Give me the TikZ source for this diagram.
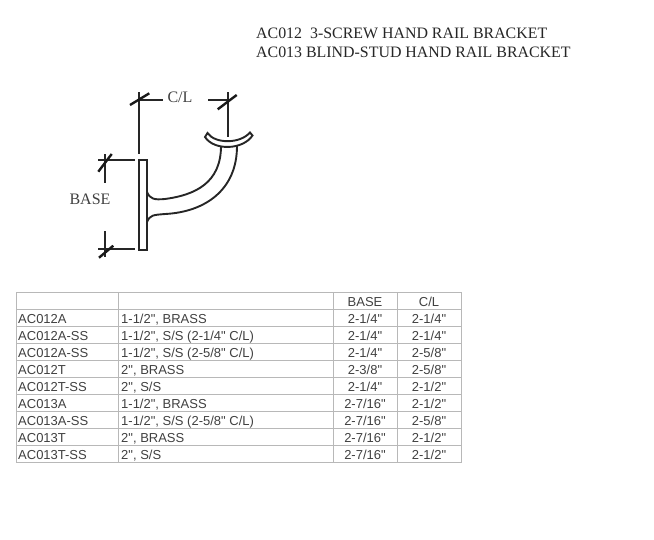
\documentclass[tikz,border=0pt]{standalone}
\usepackage{fontspec}
\setmainfont{Liberation Serif}
\newfontfamily\tablefont{Liberation Sans}
\tikzset{
	dimline/.style={line width=1.7pt,black!85},
	tickline/.style={line width=2.4pt,black!90},
	partline/.style={line width=1.9pt,black!85},
	gridline/.style={line width=0.9pt,black!28},
	celltext/.style={font=\tablefont\fontsize{13}{14}\selectfont,text=black!75,inner sep=0pt,anchor=base},
	titletext/.style={font=\fontsize{15.9}{17}\selectfont,text=black!85,inner sep=0pt,anchor=west},
	dimtext/.style={font=\fontsize{16}{17}\selectfont,text=black!75,inner sep=0pt}
}
\begin{document}
\begin{tikzpicture}[x=1pt,y=-1pt]
	\useasboundingbox (0,0) rectangle (654,539);
	\node[titletext] (title1) at (256,33) {AC012\ \ 3-SCREW HAND RAIL BRACKET};
	\node[titletext] (title2) at (256,52) {AC013 BLIND-STUD HAND RAIL BRACKET};
	% bracket
	\draw[partline] (138.7,160) rectangle (146.7,250);
	\draw[partline] (147,192) .. controls (150,199) and (154,200) .. (165,199) .. controls (195,195) and (221,183) .. (221,146);
	\draw[partline] (147,222) .. controls (150,215) and (153,215) .. (165,214) .. controls (205,212) and (237,190) .. (237,146);
	\draw[partline,fill=white] (207.5,133) .. controls (215,144) and (240,144) .. (250,132.5) -- (252.5,135.5)
		.. controls (243,150) and (214,151) .. (205,137) -- cycle;
	% dimensions
	\coordinate (CLa) at (138.7,100); \coordinate (CLb) at (162.7,100);
	\coordinate (CLc) at (208.3,100); \coordinate (CLd) at (228.3,100);
	\node[dimtext] (CL) at (180,97) {C/L};
	\node[dimtext] (BASE) at (90,199) {BASE};
	\draw[dimline] (138.7,92)--(138.7,154);
	\draw[dimline] (CLa)--(CLb);
	\draw[dimline] (CLc)--(CLd);
	\draw[dimline,line width=2.2pt] (228.3,92)--(228.3,137);
	\draw[dimline] (98,160)--(134.7,160) (105,154)--(105,183);
	\draw[dimline] (98,249)--(134.7,249) (105,231)--(105,257);
	\draw[tickline] (130,105)--(149.3,93.3);
	\draw[tickline] (217.7,109.3)--(236.7,95);
	\draw[tickline] (98.3,171.7)--(111.7,154);
	\draw[tickline] (99,257.7)--(113.3,245.7);
	% table
	\draw[gridline] (16,292) rectangle (461,462.3);
	\foreach \yy in {309,326,343.5,360.5,377.5,394.5,411.5,428.5,445.5}
		\draw[gridline] (16,\yy)--(461,\yy);
	\foreach \xx in {118,333,397}
		\draw[gridline] (\xx,292)--(\xx,462.3);
	\node[celltext] (hbase) at (365,306) {BASE};
	\node[celltext] (hcl) at (429,306) {C/L};
	\foreach \row/\code/\desc/\base/\cl in {
		1/AC012A/{1-1/2", BRASS}/{2-1/4"}/{2-1/4"},
		2/AC012A-SS/{1-1/2", S/S (2-1/4" C/L)}/{2-1/4"}/{2-1/4"},
		3/AC012A-SS/{1-1/2", S/S (2-5/8" C/L)}/{2-1/4"}/{2-5/8"},
		4/AC012T/{2", BRASS}/{2-3/8"}/{2-5/8"},
		5/AC012T-SS/{2", S/S}/{2-1/4"}/{2-1/2"},
		6/AC013A/{1-1/2", BRASS}/{2-7/16"}/{2-1/2"},
		7/AC013A-SS/{1-1/2", S/S (2-5/8" C/L)}/{2-7/16"}/{2-5/8"},
		8/AC013T/{2", BRASS}/{2-7/16"}/{2-1/2"},
		9/AC013T-SS/{2", S/S}/{2-7/16"}/{2-1/2"}}
	{
		\node[celltext,anchor=base west] (code\row) at (18,306+17*\row) {\code};
		\node[celltext,anchor=base west] (desc\row) at (121,306+17*\row) {\desc};
		\node[celltext] (base\row) at (365,306+17*\row) {\base};
		\node[celltext] (cl\row) at (429,306+17*\row) {\cl};
	}
\end{tikzpicture}
\end{document}
